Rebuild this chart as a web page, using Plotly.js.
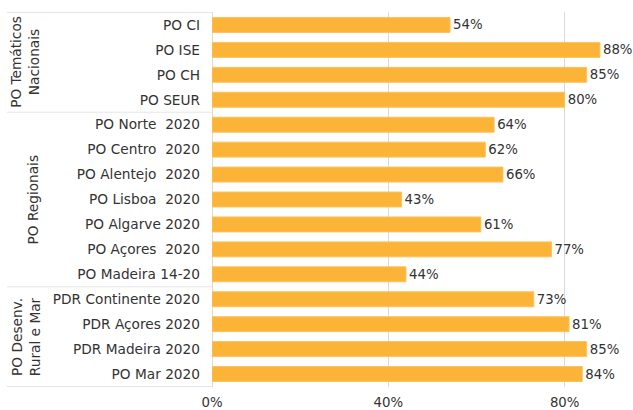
<!DOCTYPE html>
<html>
<head>
<meta charset="utf-8">
<script src="https://cdn.plot.ly/plotly-3.0.1.min.js"></script>
<style>html,body{margin:0;padding:0;background:#fff;}#chart{width:633px;height:410px;}</style>
</head>
<body>
<div id="chart"></div>
<script>
const categories = [
  'PO CI', 'PO ISE', 'PO CH', 'PO SEUR',
  'PO Norte\u00a0\u00a02020', 'PO Centro\u00a0\u00a02020', 'PO Alentejo\u00a0\u00a02020', 'PO Lisboa\u00a0\u00a02020',
  'PO Algarve 2020', 'PO Açores\u00a0\u00a02020', 'PO Madeira 14-20',
  'PDR Continente 2020', 'PDR Açores 2020', 'PDR Madeira 2020', 'PO Mar 2020'
];
const values = [54, 88, 85, 80, 64, 62, 66, 43, 61, 77, 44, 73, 81, 85, 84];
const groupNames = ['PO Temáticos<br>Nacionais', 'PO Regionais', 'PO Desenv.<br>Rural e Mar'];
const groupSizes = [4, 7, 4];
const xTicks = [0, 40, 80];
const xTickLabels = ['0%', '40%', '80%'];

const W = 633, H = 410, L = 212, R = 0, T = 12, B = 23;
const plotW = W - L - R;
const px2paper = p => (p - L) / plotW;
const lineColor = '#e6e6e6';
const font = 'DejaVu Sans, sans-serif';
const fs = 13.7;

const shapes = [];
const annotations = [];
let start = 0;
const bounds = [-0.5];
groupSizes.forEach((n, i) => {
  const end = start + n;
  bounds.push(end - 0.5);
  const twoLine = groupNames[i].indexOf('<br>') >= 0;
  annotations.push({
    xref: 'paper', yref: 'y',
    x: px2paper(twoLine ? 25.5 : 32), y: (start + end - 1) / 2,
    text: groupNames[i], showarrow: false, textangle: -90,
    xanchor: 'center', yanchor: 'middle',
    font: {family: font, size: fs, color: '#333'}
  });
  start = end;
});
bounds.forEach(b => {
  shapes.push({type: 'line', xref: 'paper', yref: 'y',
    x0: px2paper(7), x1: 0, y0: b, y1: b,
    line: {color: lineColor, width: 1}});
});

Plotly.newPlot('chart', [{
  type: 'bar', orientation: 'h',
  y: categories, x: values,
  marker: {color: '#FBB437', line: {color: '#FCC35E', width: 1}},
  text: values.map(v => v + '%'),
  textposition: 'outside',
  constraintext: 'none',
  cliponaxis: false,
  textfont: {family: font, size: 13.3, color: '#333'},
  hoverinfo: 'none'
}], {
  width: W, height: H,
  margin: {l: L, r: R, t: T, b: B},
  paper_bgcolor: '#fff', plot_bgcolor: '#fff',
  bargap: 0.4,
  showlegend: false,
  font: {family: font, size: fs, color: '#333'},
  xaxis: {
    range: [0, 95.5],
    tickvals: xTicks, ticktext: xTickLabels,
    showgrid: true, gridcolor: '#d9d9d9', gridwidth: 1,
    zeroline: true, zerolinecolor: '#d9d9d9', zerolinewidth: 1,
    showline: false, ticks: '', ticklabelstandoff: 6, fixedrange: true,
    tickfont: {family: font, size: 13.3, color: '#333'}
  },
  yaxis: {
    type: 'category', autorange: 'reversed',
    showgrid: false, zeroline: false, showline: false,
    ticks: '', ticklabelstandoff: 11,
    tickfont: {family: font, size: fs, color: '#333'}
  },
  shapes: shapes,
  annotations: annotations
}, {displayModeBar: false, staticPlot: true});
</script>
</body>
</html>
